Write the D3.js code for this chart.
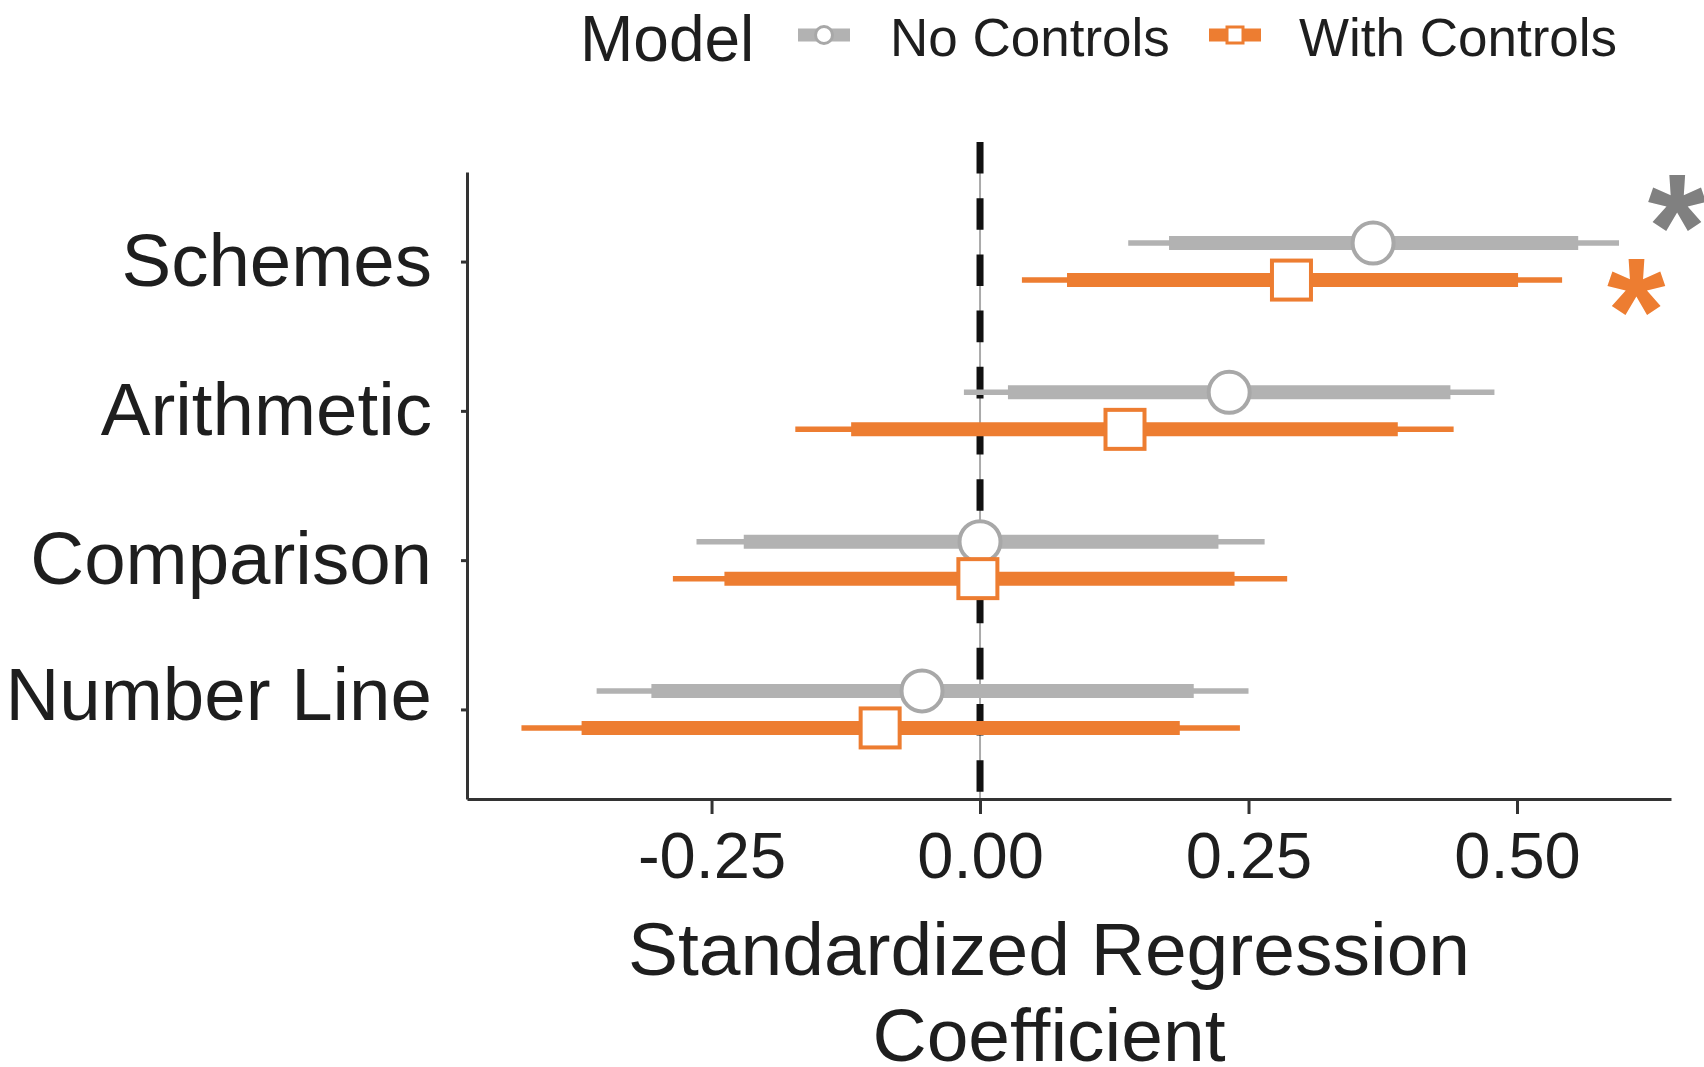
<!DOCTYPE html>
<html>
<head>
<meta charset="utf-8">
<script src="https://cdn.jsdelivr.net/npm/d3@7"></script>
<style>
  html, body { margin: 0; padding: 0; background: #fff; }
  svg { display: block; font-family: "Liberation Sans", Arial, sans-serif; }
</style>
</head>
<body>
<div id="chart"></div>
<script>
// categories (top to bottom)
const categories = ["Schemes", "Arithmetic", "Comparison", "Number Line"];
const models = ["No Controls", "With Controls"];

// No Controls: estimate, thick interval, thin interval
const noCtrlEst     = [0.366, 0.232, 0.000, -0.054];
const noCtrlInnerLo = [0.176, 0.026, -0.220, -0.306];
const noCtrlInnerHi = [0.557, 0.438, 0.222, 0.199];
const noCtrlOuterLo = [0.138, -0.015, -0.264, -0.357];
const noCtrlOuterHi = [0.595, 0.479, 0.265, 0.250];

// With Controls
const withCtrlEst     = [0.290, 0.135, -0.002, -0.093];
const withCtrlInnerLo = [0.081, -0.120, -0.238, -0.371];
const withCtrlInnerHi = [0.501, 0.389, 0.237, 0.186];
const withCtrlOuterLo = [0.039, -0.172, -0.286, -0.427];
const withCtrlOuterHi = [0.542, 0.441, 0.286, 0.242];

// x ticks
const xTicks = [-0.25, 0, 0.25, 0.5];

// significance stars (Schemes row), x in coefficient units
const starModels = ["No Controls", "With Controls"];
const starX = [0.649, 0.611];

const colors = { "No Controls": "#b2b2b2", "With Controls": "#ed7d31" };
const markerStroke = { "No Controls": "#a8a8a8", "With Controls": "#ed7d31" };
const starColors = { "No Controls": "#808080", "With Controls": "#ed7d31" };
const textColor = "#1e1e1e";

const W = 1704, H = 1067;
const svg = d3.select("#chart").append("svg")
  .attr("width", W).attr("height", H)
  .style("background", "#fff");

// scales
const x = d3.scaleLinear().domain([-0.4777, 0.6434]).range([467, 1671]);
const y = d3.scalePoint().domain(categories).range([172, 799]).padding(0.6);
const dodge = { "No Controls": -18.5, "With Controls": 18.5 };

// rows for drawing
const rows = [];
categories.forEach((c, i) => {
  rows.push({ cat: c, model: "No Controls", est: noCtrlEst[i],
    ilo: noCtrlInnerLo[i], ihi: noCtrlInnerHi[i], olo: noCtrlOuterLo[i], ohi: noCtrlOuterHi[i] });
  rows.push({ cat: c, model: "With Controls", est: withCtrlEst[i],
    ilo: withCtrlInnerLo[i], ihi: withCtrlInnerHi[i], olo: withCtrlOuterLo[i], ohi: withCtrlOuterHi[i] });
});
const rowY = d => y(d.cat) + dodge[d.model];

// zero reference line (thin grey under black dashes)
svg.append("line")
  .attr("x1", x(0)).attr("x2", x(0))
  .attr("y1", 142).attr("y2", 799)
  .attr("stroke", "#aaa").attr("stroke-width", 2);
svg.append("line")
  .attr("x1", x(0)).attr("x2", x(0))
  .attr("y1", 142).attr("y2", 799)
  .attr("stroke", "#111").attr("stroke-width", 7)
  .attr("stroke-dasharray", "31.6 24.6");

// thin intervals
svg.selectAll(".thin").data(rows).enter().append("line")
  .attr("class", "thin")
  .attr("x1", d => x(d.olo)).attr("x2", d => x(d.ohi))
  .attr("y1", rowY).attr("y2", rowY)
  .attr("stroke", d => colors[d.model]).attr("stroke-width", 5.5);

// thick intervals
svg.selectAll(".thick").data(rows).enter().append("line")
  .attr("class", "thick")
  .attr("x1", d => x(d.ilo)).attr("x2", d => x(d.ihi))
  .attr("y1", rowY).attr("y2", rowY)
  .attr("stroke", d => colors[d.model]).attr("stroke-width", 14);

// point estimates
svg.selectAll(".pt-circle").data(rows.filter(d => d.model === "No Controls")).enter()
  .append("circle")
  .attr("class", "pt-circle")
  .attr("cx", d => x(d.est)).attr("cy", rowY).attr("r", 20.5)
  .attr("fill", "#fff").attr("stroke", d => markerStroke[d.model]).attr("stroke-width", 4);
svg.selectAll(".pt-square").data(rows.filter(d => d.model === "With Controls")).enter()
  .append("rect")
  .attr("class", "pt-square")
  .attr("x", d => x(d.est) - 19.5).attr("y", d => rowY(d) - 19.5)
  .attr("width", 39).attr("height", 39)
  .attr("fill", "#fff").attr("stroke", d => markerStroke[d.model]).attr("stroke-width", 4);

// significance stars
const starDy = { "No Controls": -44, "With Controls": 3 };
svg.selectAll(".star").data(starModels).enter().append("text")
  .attr("class", "star")
  .attr("x", (d, i) => x(starX[i]))
  .attr("y", d => y("Schemes") + dodge[d] + starDy[d] + 80)
  .attr("text-anchor", "middle")
  .attr("font-size", 150)
  .attr("font-weight", "bold")
  .attr("fill", d => starColors[d])
  .text("*");

// x axis
const xAxis = svg.append("g")
  .attr("transform", "translate(0,799)")
  .call(d3.axisBottom(x).tickValues(xTicks).tickFormat(d3.format(".2f"))
    .tickSize(15).tickSizeOuter(0).tickPadding(18));
xAxis.select(".domain").attr("stroke", "#333").attr("stroke-width", 3);
xAxis.selectAll(".tick line").attr("stroke", "#333").attr("stroke-width", 3);
xAxis.selectAll(".tick text")
  .attr("font-size", 65).attr("fill", textColor)
  .attr("font-family", "Liberation Sans, Arial, sans-serif")
  .text(d => d3.format(".2f")(d).replace("−", "-"));

// y axis
const yAxis = svg.append("g")
  .attr("transform", "translate(467,0)")
  .call(d3.axisLeft(y).tickSize(6).tickSizeOuter(0).tickPadding(29));
yAxis.select(".domain").attr("stroke", "#333").attr("stroke-width", 3);
yAxis.selectAll(".tick line").attr("stroke", "#333").attr("stroke-width", 3);
yAxis.selectAll(".tick text")
  .attr("font-size", 74.5).attr("fill", textColor)
  .attr("font-family", "Liberation Sans, Arial, sans-serif")
  .attr("dy", d => d === "Number Line" ? "0.14em" : "0.32em");

// x axis title
svg.append("text")
  .attr("x", 1049).attr("y", 975)
  .attr("text-anchor", "middle")
  .attr("font-size", 75).attr("fill", textColor)
  .text("Standardized Regression");
svg.append("text")
  .attr("x", 1049).attr("y", 1061)
  .attr("text-anchor", "middle")
  .attr("font-size", 75).attr("fill", textColor)
  .text("Coefficient");

// legend
const legend = svg.append("g");
legend.append("text")
  .attr("x", 580).attr("y", 61)
  .attr("font-size", 64).attr("fill", textColor)
  .text("Model");

const keyX = { "No Controls": 824, "With Controls": 1235 };
const labelX = { "No Controls": 890, "With Controls": 1299 };
const keyY = 35;
models.forEach(m => {
  const g = legend.append("g");
  g.append("line")
    .attr("x1", keyX[m] - 26).attr("x2", keyX[m] + 26)
    .attr("y1", keyY).attr("y2", keyY)
    .attr("stroke", colors[m]).attr("stroke-width", 13);
  if (m === "No Controls") {
    g.append("circle")
      .attr("cx", keyX[m]).attr("cy", keyY).attr("r", 8.5)
      .attr("fill", "#fff").attr("stroke", markerStroke[m]).attr("stroke-width", 3);
  } else {
    g.append("rect")
      .attr("x", keyX[m] - 8).attr("y", keyY - 8)
      .attr("width", 16).attr("height", 16)
      .attr("fill", "#fff").attr("stroke", markerStroke[m]).attr("stroke-width", 3);
  }
  g.append("text")
    .attr("x", labelX[m]).attr("y", 56)
    .attr("font-size", 53).attr("fill", textColor)
    .text(m);
});
</script>
</body>
</html>
